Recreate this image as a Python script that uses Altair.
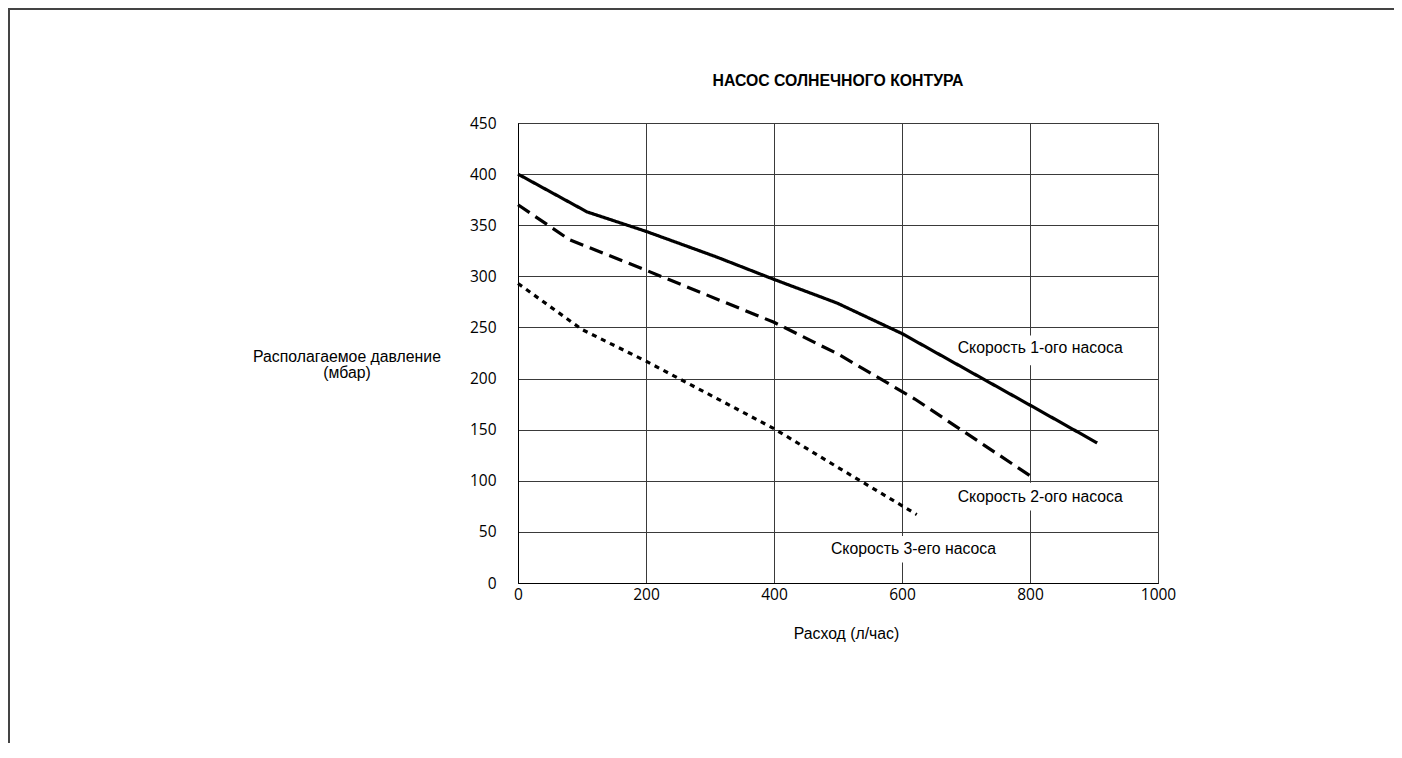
import altair as alt
import pandas as pd

# ---- data ----
speed1_x = [0, 108, 200, 310, 400, 498, 600, 700, 800, 905]
speed1_y = [400, 363, 344, 319, 297, 274, 244, 209, 174, 137]
speed2_x = [0, 80, 200, 400, 500, 620, 800]
speed2_y = [370, 336, 306, 255, 224, 180, 105]
speed3_x = [0, 100, 200, 300, 400, 500, 623]
speed3_y = [293, 248, 217, 184, 151, 113, 67]

series_names = ["Скорость 1-ого насоса", "Скорость 2-ого насоса", "Скорость 3-его насоса"]
label_x = [687, 687, 489]
label_y = [229.5, 84, 33.5]
box_x = [683, 683, 485]
box_x2 = [955, 955, 755]
box_y = [213, 71, 20]
box_y2 = [242, 98, 46]

title_text = "НАСОС СОЛНЕЧНОГО КОНТУРА"
x_title = "Расход (л/час)"
y_title = ["Располагаемое давление", "(мбар)"]

rows = []
for name, xs, ys in zip(series_names, [speed1_x, speed2_x, speed3_x], [speed1_y, speed2_y, speed3_y]):
    for xv, yv in zip(xs, ys):
        rows.append({"series": name, "flow": xv, "pressure": yv})
df = pd.DataFrame(rows)
labels = pd.DataFrame({"text": series_names, "x": label_x, "y": label_y,
                       "bx": box_x, "bx2": box_x2, "by": box_y, "by2": box_y2})

W, H = 640, 460
TICK_FONT = "Open Sans"
TEXT_FONT = "Liberation Sans"
TEXT_SIZE = 15.8

xscale = alt.Scale(domain=[0, 1000], nice=False, zero=True)
yscale = alt.Scale(domain=[0, 450], nice=False, zero=True)

base = alt.Chart(df)

lines = base.mark_line(color="black", strokeWidth=3.2, strokeCap="butt").encode(
    x=alt.X("flow:Q", scale=xscale,
            axis=alt.Axis(values=[0, 200, 400, 600, 800, 1000], format="d", title=x_title,
                          titleFont=TEXT_FONT, titleFontSize=TEXT_SIZE, titleFontWeight="normal",
                          titleColor="black", titleX=328, titleY=55, titleAlign="center",
                          titleBaseline="alphabetic",
                          labelFont=TICK_FONT, labelFontSize=15.5, labelColor="black",
                          labelPadding=4, tickSize=0, labelFlush=False,
                          grid=True, gridColor="#3a3a3a", gridWidth=1,
                          domainColor="black", domainWidth=1)),
    y=alt.Y("pressure:Q", scale=yscale,
            axis=alt.Axis(values=list(range(0, 451, 50)), format="d", title=y_title,
                          titleFont=TEXT_FONT, titleFontSize=TEXT_SIZE, titleFontWeight="normal",
                          titleColor="black", titleAngle=0, titleX=-171.5, titleY=238.5,
                          titleAlign="center", titleBaseline="alphabetic", titleLineHeight=16.3,
                          labelFont=TICK_FONT, labelFontSize=15.5, labelColor="black",
                          labelPadding=22, tickSize=0, labelFlush=False,
                          grid=True, gridColor="#3a3a3a", gridWidth=1,
                          domainColor="black", domainWidth=1)),
    strokeDash=alt.StrokeDash("series:N",
                              scale=alt.Scale(domain=series_names,
                                              range=[[1, 0], [14, 7], [5, 5]]),
                              legend=None),
    detail="series:N",
)

boxes = alt.Chart(labels).mark_rect(color="white", opacity=1).encode(
    x=alt.X("bx:Q", scale=xscale), x2="bx2:Q",
    y=alt.Y("by:Q", scale=yscale), y2="by2:Q",
)

texts = alt.Chart(labels).mark_text(align="left", baseline="middle", font=TEXT_FONT,
                                    fontSize=TEXT_SIZE, color="black").encode(
    x=alt.X("x:Q", scale=xscale), y=alt.Y("y:Q", scale=yscale), text="text:N"
)

title_mark = alt.Chart(pd.DataFrame({"t": [title_text]})).mark_text(
    align="center", baseline="middle", font=TEXT_FONT, fontSize=15.8, fontWeight="bold",
    color="black").encode(x=alt.value(W / 2), y=alt.value(-42), text="t:N")

frame_left = alt.Chart(pd.DataFrame({"a": [0]})).mark_rule(color="#444", strokeWidth=2).encode(
    x=alt.value(-509), y=alt.value(-115), y2=alt.value(620))
frame_top = alt.Chart(pd.DataFrame({"a": [0]})).mark_rule(color="#444", strokeWidth=2).encode(
    x=alt.value(-510), x2=alt.value(876), y=alt.value(-114))

chart = alt.layer(boxes, lines, texts, title_mark, frame_left, frame_top).properties(
    width=W, height=H,
    autosize=alt.AutoSizeParams(type="none"),
    padding={"left": 510, "top": 115, "right": 236, "bottom": 160},
    background="white",
).configure_view(stroke="black", strokeWidth=1)

chart.save("out.html", embed_options={"renderer": "svg", "actions": False})
